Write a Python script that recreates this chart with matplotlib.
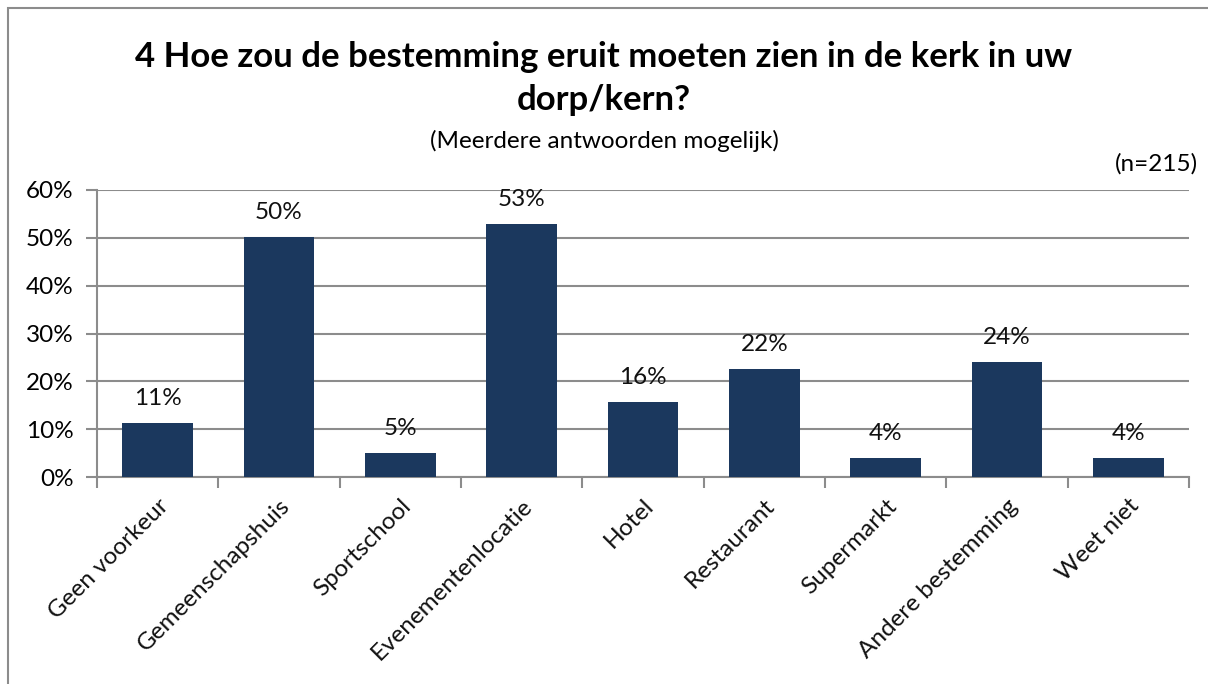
import numpy as np
import matplotlib.pyplot as plt
from matplotlib.patches import Rectangle

categories = ['Geen voorkeur', 'Gemeenschapshuis', 'Sportschool', 'Evenementenlocatie',
              'Hotel', 'Restaurant', 'Supermarkt', 'Andere bestemming', 'Weet niet']
values = [11.2, 50.2, 5.0, 52.8, 15.6, 22.5, 4.0, 24.0, 4.0]
labels = ['11%', '50%', '5%', '53%', '16%', '22%', '4%', '24%', '4%']

plt.rcParams['font.family'] = ['Lato', 'DejaVu Sans']
fs = 17.5

fig = plt.figure(figsize=(12.08, 6.84), dpi=100)
ax = fig.add_axes([97 / 1208, 1 - 477 / 684, (1189 - 97) / 1208, (477 - 190) / 684])

x = np.arange(len(categories))
ax.bar(x, values, width=0.585, color='#1b385e', zorder=3)
for xi, v, t in zip(x, values, labels):
    ax.text(xi, v + 3.0, t, ha='center', va='bottom', fontsize=fs, color='#111111')

ax.set_xlim(-0.5, len(categories) - 0.5)
ax.set_ylim(0, 60)
ax.set_yticks(np.arange(0, 61, 10))
ax.set_yticklabels([f'{t}%' for t in range(0, 61, 10)], fontsize=fs)
ax.yaxis.grid(True, color='#8c8c8c', linewidth=1.5, zorder=0)
ax.set_axisbelow(True)

# ticks between categories
ax.set_xticks(np.arange(-0.5, len(categories)))
ax.set_xticklabels([])
ax.tick_params(axis='x', length=8, color='#8c8c8c', width=1.5)
ax.tick_params(axis='y', length=8, color='#8c8c8c', width=1.5, pad=9)
for xi, c in zip(x, categories):
    ax.annotate(c, xy=(xi, 0), xycoords=('data', 'axes fraction'),
                xytext=(0, -13), textcoords='offset points',
                rotation=45, ha='right', va='top', rotation_mode='anchor',
                fontsize=fs, color='#111111')

for s in ['top', 'right']:
    ax.spines[s].set_visible(False)
for s in ['left', 'bottom']:
    ax.spines[s].set_color('#8c8c8c')
    ax.spines[s].set_linewidth(1.5)

fig.text(0.5, 1 - 57 / 684, '4 Hoe zou de bestemming eruit moeten zien in de kerk in uw',
         ha='center', va='center', fontsize=25, fontweight='bold')
fig.text(0.5, 1 - 100 / 684, 'dorp/kern?', ha='center', va='center',
         fontsize=25, fontweight='bold')
fig.text(0.5, 1 - 141 / 684, '(Meerdere antwoorden mogelijk)', ha='center', va='center',
         fontsize=fs)
fig.text(1198 / 1208, 1 - 164 / 684, '(n=215)', ha='right', va='center', fontsize=fs)

# outer frame
fig.patches.append(Rectangle((8 / 1208, -0.01), 1.1, 1 - 8 / 684 + 0.01,
                             transform=fig.transFigure, fill=False,
                             edgecolor='#8c8c8c', linewidth=1.5))

fig.savefig('out.png', dpi=100)
